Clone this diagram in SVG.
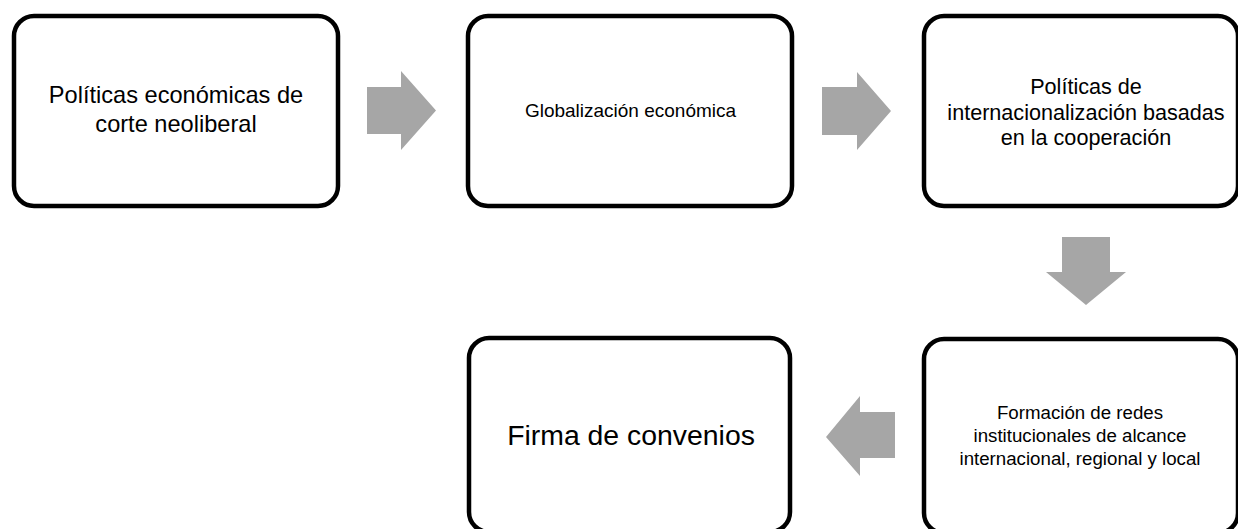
<svg xmlns="http://www.w3.org/2000/svg" width="1238" height="529" viewBox="0 0 1238 529">
<style>
.box{fill:#ffffff;stroke:#000000;stroke-width:4.5}
.t{font-family:"Liberation Sans",Arial,sans-serif;fill:#000000;text-anchor:middle}
.arr{fill:#A6A6A6;stroke:none}
</style>
<rect x="0" y="0" width="1238" height="529" fill="#ffffff"/>
<g id="connectors">
<polygon class="arr" points="367,87 401,87 401,71 436,110.5 401,150 401,134 367,134"/>
<polygon class="arr" points="822,87 857,87 857,72 891,111 857,150 857,135 822,135"/>
<polygon class="arr" points="1062,237 1110,237 1110,272 1126,272 1086,305 1046,272 1062,272"/>
<polygon class="arr" points="826,437 860,396 860,412 895,412 895,458 860,458 860,476"/>
</g>
<g id="node1">
<rect class="box" x="14" y="16" width="324" height="190" rx="20" ry="20"/>
<text class="t" x="176" y="103" font-size="23.6">Políticas económicas de</text>
<text class="t" x="176" y="132" font-size="23.6">corte neoliberal</text>
</g>
<g id="node2">
<rect class="box" x="468" y="16" width="324" height="190" rx="20" ry="20"/>
<text class="t" x="630.5" y="117" font-size="19">Globalización económica</text>
</g>
<g id="node3">
<rect class="box" x="924" y="16" width="314" height="190" rx="20" ry="20"/>
<text class="t" x="1086" y="94" font-size="21.6">Políticas de</text>
<text class="t" x="1086" y="120" font-size="21.6">internacionalización basadas</text>
<text class="t" x="1086" y="145" font-size="21.6">en la cooperación</text>
</g>
<g id="node4">
<rect class="box" x="924" y="339" width="314" height="194" rx="20" ry="20"/>
<text class="t" x="1080" y="419" font-size="18.7">Formación de redes</text>
<text class="t" x="1080" y="442" font-size="18.7">institucionales de alcance</text>
<text class="t" x="1080" y="465" font-size="18.7">internacional, regional y local</text>
</g>
<g id="node5">
<rect class="box" x="469" y="338" width="321" height="194" rx="20" ry="20"/>
<text class="t" x="631" y="445" font-size="28.4">Firma de convenios</text>
</g>
</svg>
